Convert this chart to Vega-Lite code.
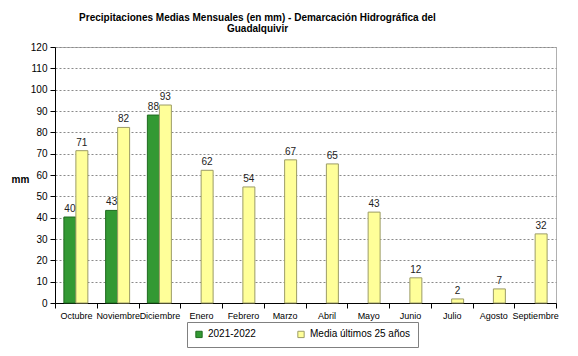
{
  "$schema": "https://vega.github.io/schema/vega-lite/v6.json",
  "width": 501,
  "height": 256,
  "autosize": {"type": "none"},
  "padding": {"left": 55, "top": 47, "right": 22, "bottom": 53},
  "background": "white",
  "config": {
    "view": {"stroke": "#b0b0b0", "strokeWidth": 1},
    "font": "Liberation Sans"
  },
  "title": {
    "text": ["Precipitaciones Medias Mensuales (en mm) - Demarcación Hidrográfica del", "Guadalquivir"],
    "font": "Liberation Sans",
    "fontSize": 10,
    "fontWeight": "bold",
    "color": "black",
    "anchor": "middle",
    "dx": -48,
    "offset": 8,
    "lineHeight": 11
  },
  "data": {
    "values": [
      {"month": "Octubre", "series": "2021-2022", "value": 40.3},
      {"month": "Noviembre", "series": "2021-2022", "value": 43.4},
      {"month": "Diciembre", "series": "2021-2022", "value": 88.1},
      {"month": "Octubre", "series": "Media últimos 25 años", "value": 71.4},
      {"month": "Noviembre", "series": "Media últimos 25 años", "value": 82.3},
      {"month": "Diciembre", "series": "Media últimos 25 años", "value": 92.8},
      {"month": "Enero", "series": "Media últimos 25 años", "value": 62.2},
      {"month": "Febrero", "series": "Media últimos 25 años", "value": 54.4},
      {"month": "Marzo", "series": "Media últimos 25 años", "value": 67.1},
      {"month": "Abril", "series": "Media últimos 25 años", "value": 65.2},
      {"month": "Mayo", "series": "Media últimos 25 años", "value": 42.6},
      {"month": "Junio", "series": "Media últimos 25 años", "value": 11.8},
      {"month": "Julio", "series": "Media últimos 25 años", "value": 1.9},
      {"month": "Agosto", "series": "Media últimos 25 años", "value": 6.6},
      {"month": "Septiembre", "series": "Media últimos 25 años", "value": 32.4}
    ]
  },
  "encoding": {
    "x": {
      "field": "month",
      "type": "nominal",
      "sort": ["Octubre", "Noviembre", "Diciembre", "Enero", "Febrero", "Marzo", "Abril", "Mayo", "Junio", "Julio", "Agosto", "Septiembre"],
      "scale": {"paddingInner": 0, "paddingOuter": 0},
      "axis": {
        "title": null,
        "labelAngle": 0,
        "labelFont": "Liberation Sans",
        "labelFontSize": 9,
        "labelColor": "black",
        "labelPadding": 3,
        "labelLimit": 60,
        "tickBand": "extent",
        "tickSize": 5,
        "tickColor": "black",
        "domainColor": "black",
        "grid": false
      }
    },
    "xOffset": {
      "field": "series",
      "type": "nominal",
      "sort": ["2021-2022", "Media últimos 25 años"],
      "scale": {"domain": ["2021-2022", "Media últimos 25 años"], "paddingInner": 0, "paddingOuter": 0.74}
    },
    "y": {
      "field": "value",
      "type": "quantitative",
      "scale": {"domain": [0, 120], "nice": false},
      "axis": {
        "title": "mm",
        "titleAngle": 0,
        "titleFont": "Liberation Sans",
        "titleFontSize": 10,
        "titleFontWeight": "bold",
        "titleColor": "black",
        "titleX": -35,
        "titleY": 137,
        "titleAlign": "center",
        "values": [0, 10, 20, 30, 40, 50, 60, 70, 80, 90, 100, 110, 120],
        "labelFont": "Liberation Sans",
        "labelFontSize": 10,
        "labelColor": "black",
        "labelPadding": 3,
        "tickSize": 5,
        "tickColor": "black",
        "domainColor": "black",
        "gridColor": "#8a8a8a",
        "gridDash": [2, 2],
        "gridWidth": 1
      }
    }
  },
  "layer": [
    {
      "mark": {"type": "bar", "strokeWidth": 1},
      "encoding": {
        "color": {
          "field": "series",
          "type": "nominal",
          "scale": {"domain": ["2021-2022", "Media últimos 25 años"], "range": ["#339933", "#ffff99"]},
          "legend": {
            "title": null,
            "orient": "none",
            "direction": "horizontal",
            "legendX": 132,
            "legendY": 275,
            "strokeColor": "#808080",
            "fillColor": "white",
            "padding": 7,
            "symbolType": "square",
            "symbolSize": 40,
            "symbolStrokeWidth": 1,
            "labelFont": "Liberation Sans",
            "labelFontSize": 10,
            "labelColor": "black",
            "columnPadding": 39,
            "labelLimit": 200
          }
        },
        "stroke": {
          "field": "series",
          "type": "nominal",
          "scale": {"domain": ["2021-2022", "Media últimos 25 años"], "range": ["#1f6b1f", "#9c9c66"]},
          "legend": null
        }
      }
    },
    {
      "mark": {"type": "text", "baseline": "bottom", "dy": -3, "font": "Liberation Sans", "fontSize": 10, "color": "#222222"},
      "encoding": {
        "text": {"field": "value", "type": "quantitative", "format": ".0f"}
      }
    }
  ]
}
